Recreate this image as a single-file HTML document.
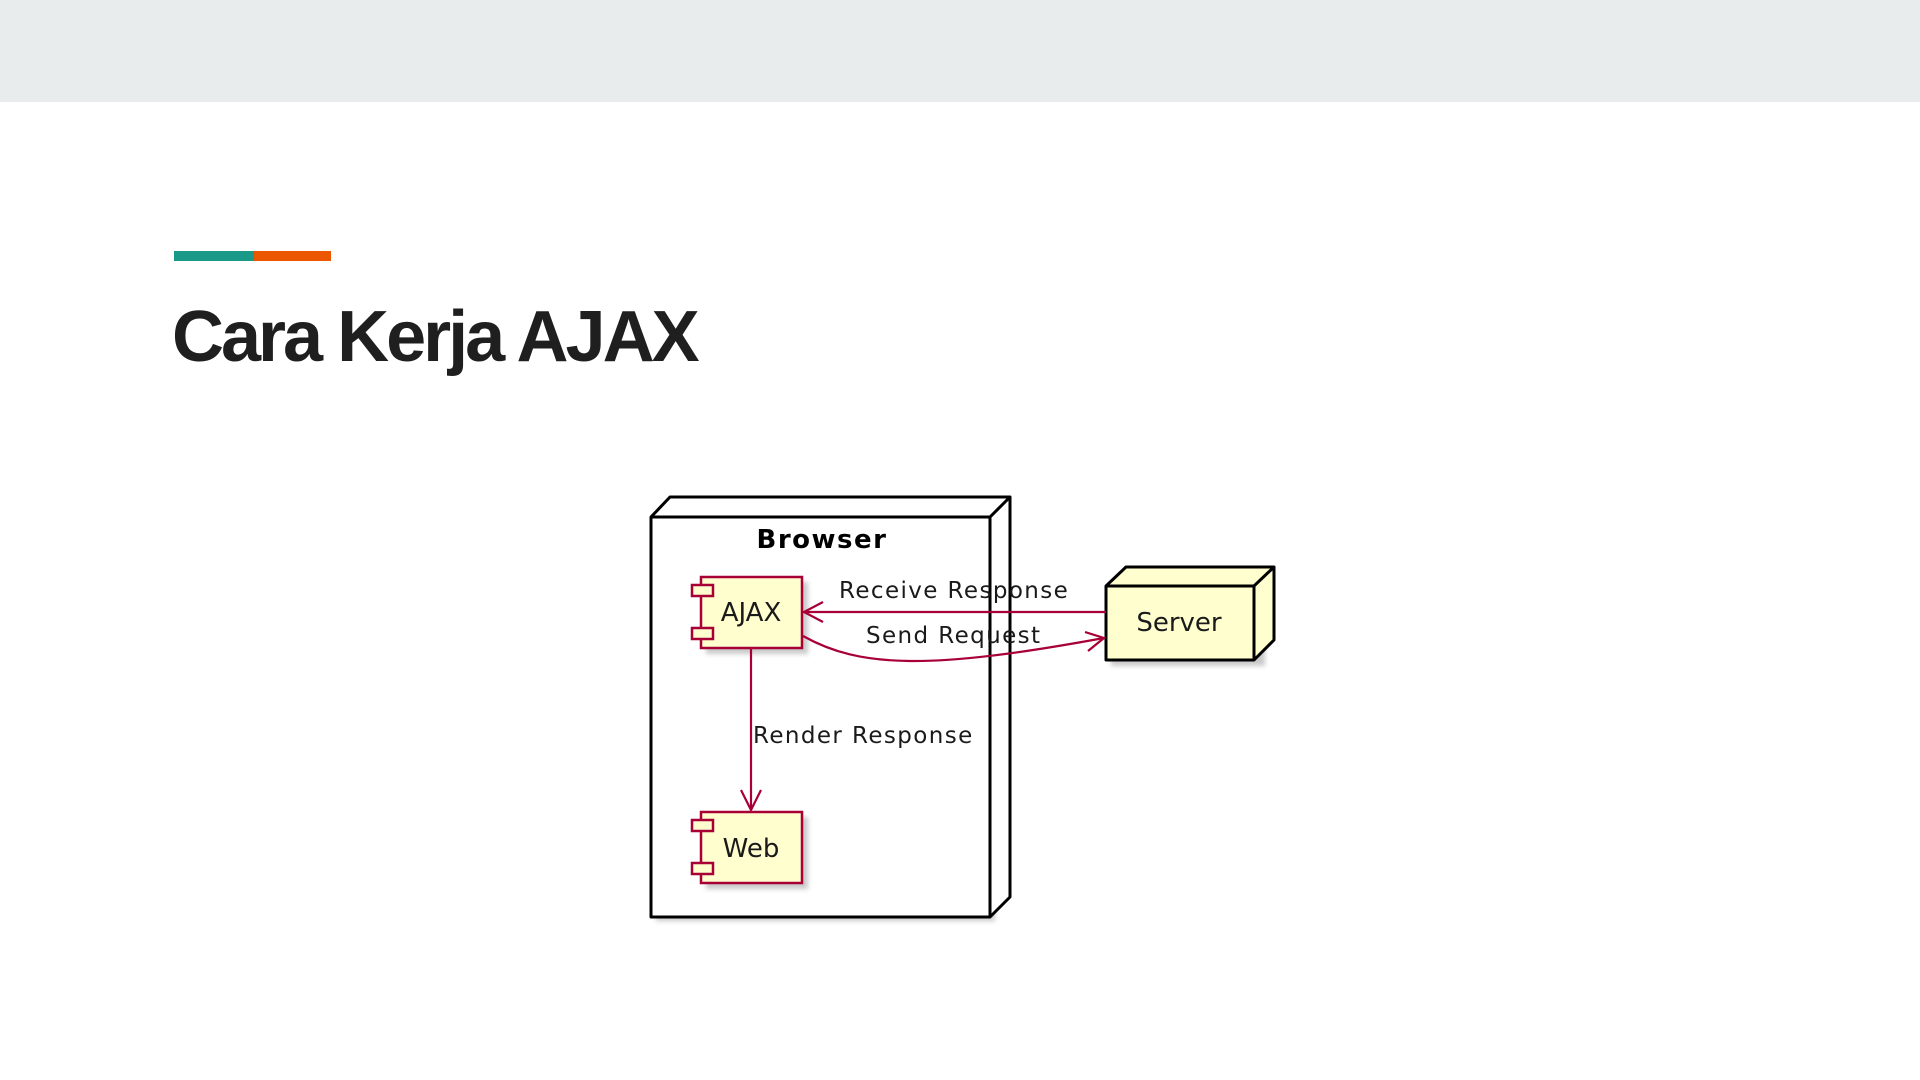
<!DOCTYPE html>
<html><head><meta charset="utf-8"><style>
html,body{margin:0;padding:0;width:1920px;height:1080px;background:#fff;overflow:hidden}
.hdr{position:absolute;left:0;top:0;width:1920px;height:102px;background:#e8eced}
.b1{position:absolute;left:174px;top:251px;width:80px;height:10px;background:#1a9988}
.b2{position:absolute;left:254px;top:251px;width:77px;height:10px;background:#eb5600}
.title{position:absolute;left:172px;top:292px;font-family:"Liberation Sans",sans-serif;font-weight:bold;font-size:72px;line-height:90px;letter-spacing:-3px;color:#1f1f1f;white-space:nowrap}
svg{position:absolute;left:0;top:0}
</style></head><body>
<div class="hdr"></div>
<div class="b1"></div><div class="b2"></div>
<div class="title">Cara Kerja AJAX</div>
<svg width="1920" height="1080" viewBox="0 0 1920 1080">
<defs><filter id="sh" x="-10%" y="-10%" width="130%" height="130%"><feGaussianBlur stdDeviation="2.5"/></filter></defs>
<g font-family="DejaVu Sans, sans-serif">
<!-- Browser node -->
<polygon points="656,522 995,522 995,921 656,921" fill="#888" opacity="0.45" filter="url(#sh)"/>
<polygon points="651,517 670,497 1010,497 1010,897 990,917 651,917" fill="#fff" stroke="#000" stroke-width="3" stroke-linejoin="round"/>
<polyline points="651,517 990,517 1010,497" fill="none" stroke="#000" stroke-width="3"/>
<line x1="990" y1="517" x2="990" y2="917" stroke="#000" stroke-width="3"/>
<text x="822" y="548" font-size="26" font-weight="bold" letter-spacing="1.5" text-anchor="middle" fill="#000">Browser</text>
<!-- Server node -->
<rect x="1111" y="590" width="154" height="76" fill="#888" opacity="0.45" filter="url(#sh)"/>
<polygon points="1106,586 1126,567 1274,567 1274,640 1254,660 1106,660" fill="#fefece" stroke="#000" stroke-width="3" stroke-linejoin="round"/>
<polyline points="1106,586 1254,586 1274,567" fill="none" stroke="#000" stroke-width="3"/>
<line x1="1254" y1="586" x2="1254" y2="660" stroke="#000" stroke-width="3"/>
<text x="1179" y="631" font-size="26" text-anchor="middle" fill="#1a1a1a">Server</text>
<!-- AJAX component -->
<rect x="706" y="582" width="102" height="72" fill="#888" opacity="0.45" filter="url(#sh)"/>
<rect x="701" y="577" width="101" height="71" fill="#fefece" stroke="#a80036" stroke-width="2.5"/>
<rect x="692" y="585" width="21" height="11" fill="#fefece" stroke="#a80036" stroke-width="2.5"/>
<rect x="692" y="628" width="21" height="11" fill="#fefece" stroke="#a80036" stroke-width="2.5"/>
<text x="751" y="621" font-size="26" text-anchor="middle" fill="#1a1a1a">AJAX</text>
<!-- Web component -->
<rect x="706" y="817" width="102" height="72" fill="#888" opacity="0.45" filter="url(#sh)"/>
<rect x="701" y="812" width="101" height="71" fill="#fefece" stroke="#a80036" stroke-width="2.5"/>
<rect x="692" y="820" width="21" height="11" fill="#fefece" stroke="#a80036" stroke-width="2.5"/>
<rect x="692" y="863" width="21" height="11" fill="#fefece" stroke="#a80036" stroke-width="2.5"/>
<text x="751" y="857" font-size="26" text-anchor="middle" fill="#1a1a1a">Web</text>
<!-- arrows -->
<line x1="1106" y1="612" x2="804" y2="612" stroke="#a80036" stroke-width="2.2"/>
<polyline points="823,602 804,612 823,622" fill="none" stroke="#a80036" stroke-width="2.2"/>
<path d="M803,636 C860,668 930,670 1104,638" fill="none" stroke="#a80036" stroke-width="2.2"/>
<polyline points="1085,632 1104,638 1088,651" fill="none" stroke="#a80036" stroke-width="2.2"/>
<line x1="751" y1="649" x2="751" y2="810" stroke="#a80036" stroke-width="2.2"/>
<polyline points="741,790 751,810 761,790" fill="none" stroke="#a80036" stroke-width="2.2"/>
<text x="839" y="598" font-size="23" letter-spacing="1.4" fill="#1a1a1a">Receive Response</text>
<text x="866" y="643" font-size="23" letter-spacing="1.4" fill="#1a1a1a">Send Request</text>
<text x="753" y="743" font-size="23" letter-spacing="1.4" fill="#1a1a1a">Render Response</text>
</g>
</svg>
</body></html>
